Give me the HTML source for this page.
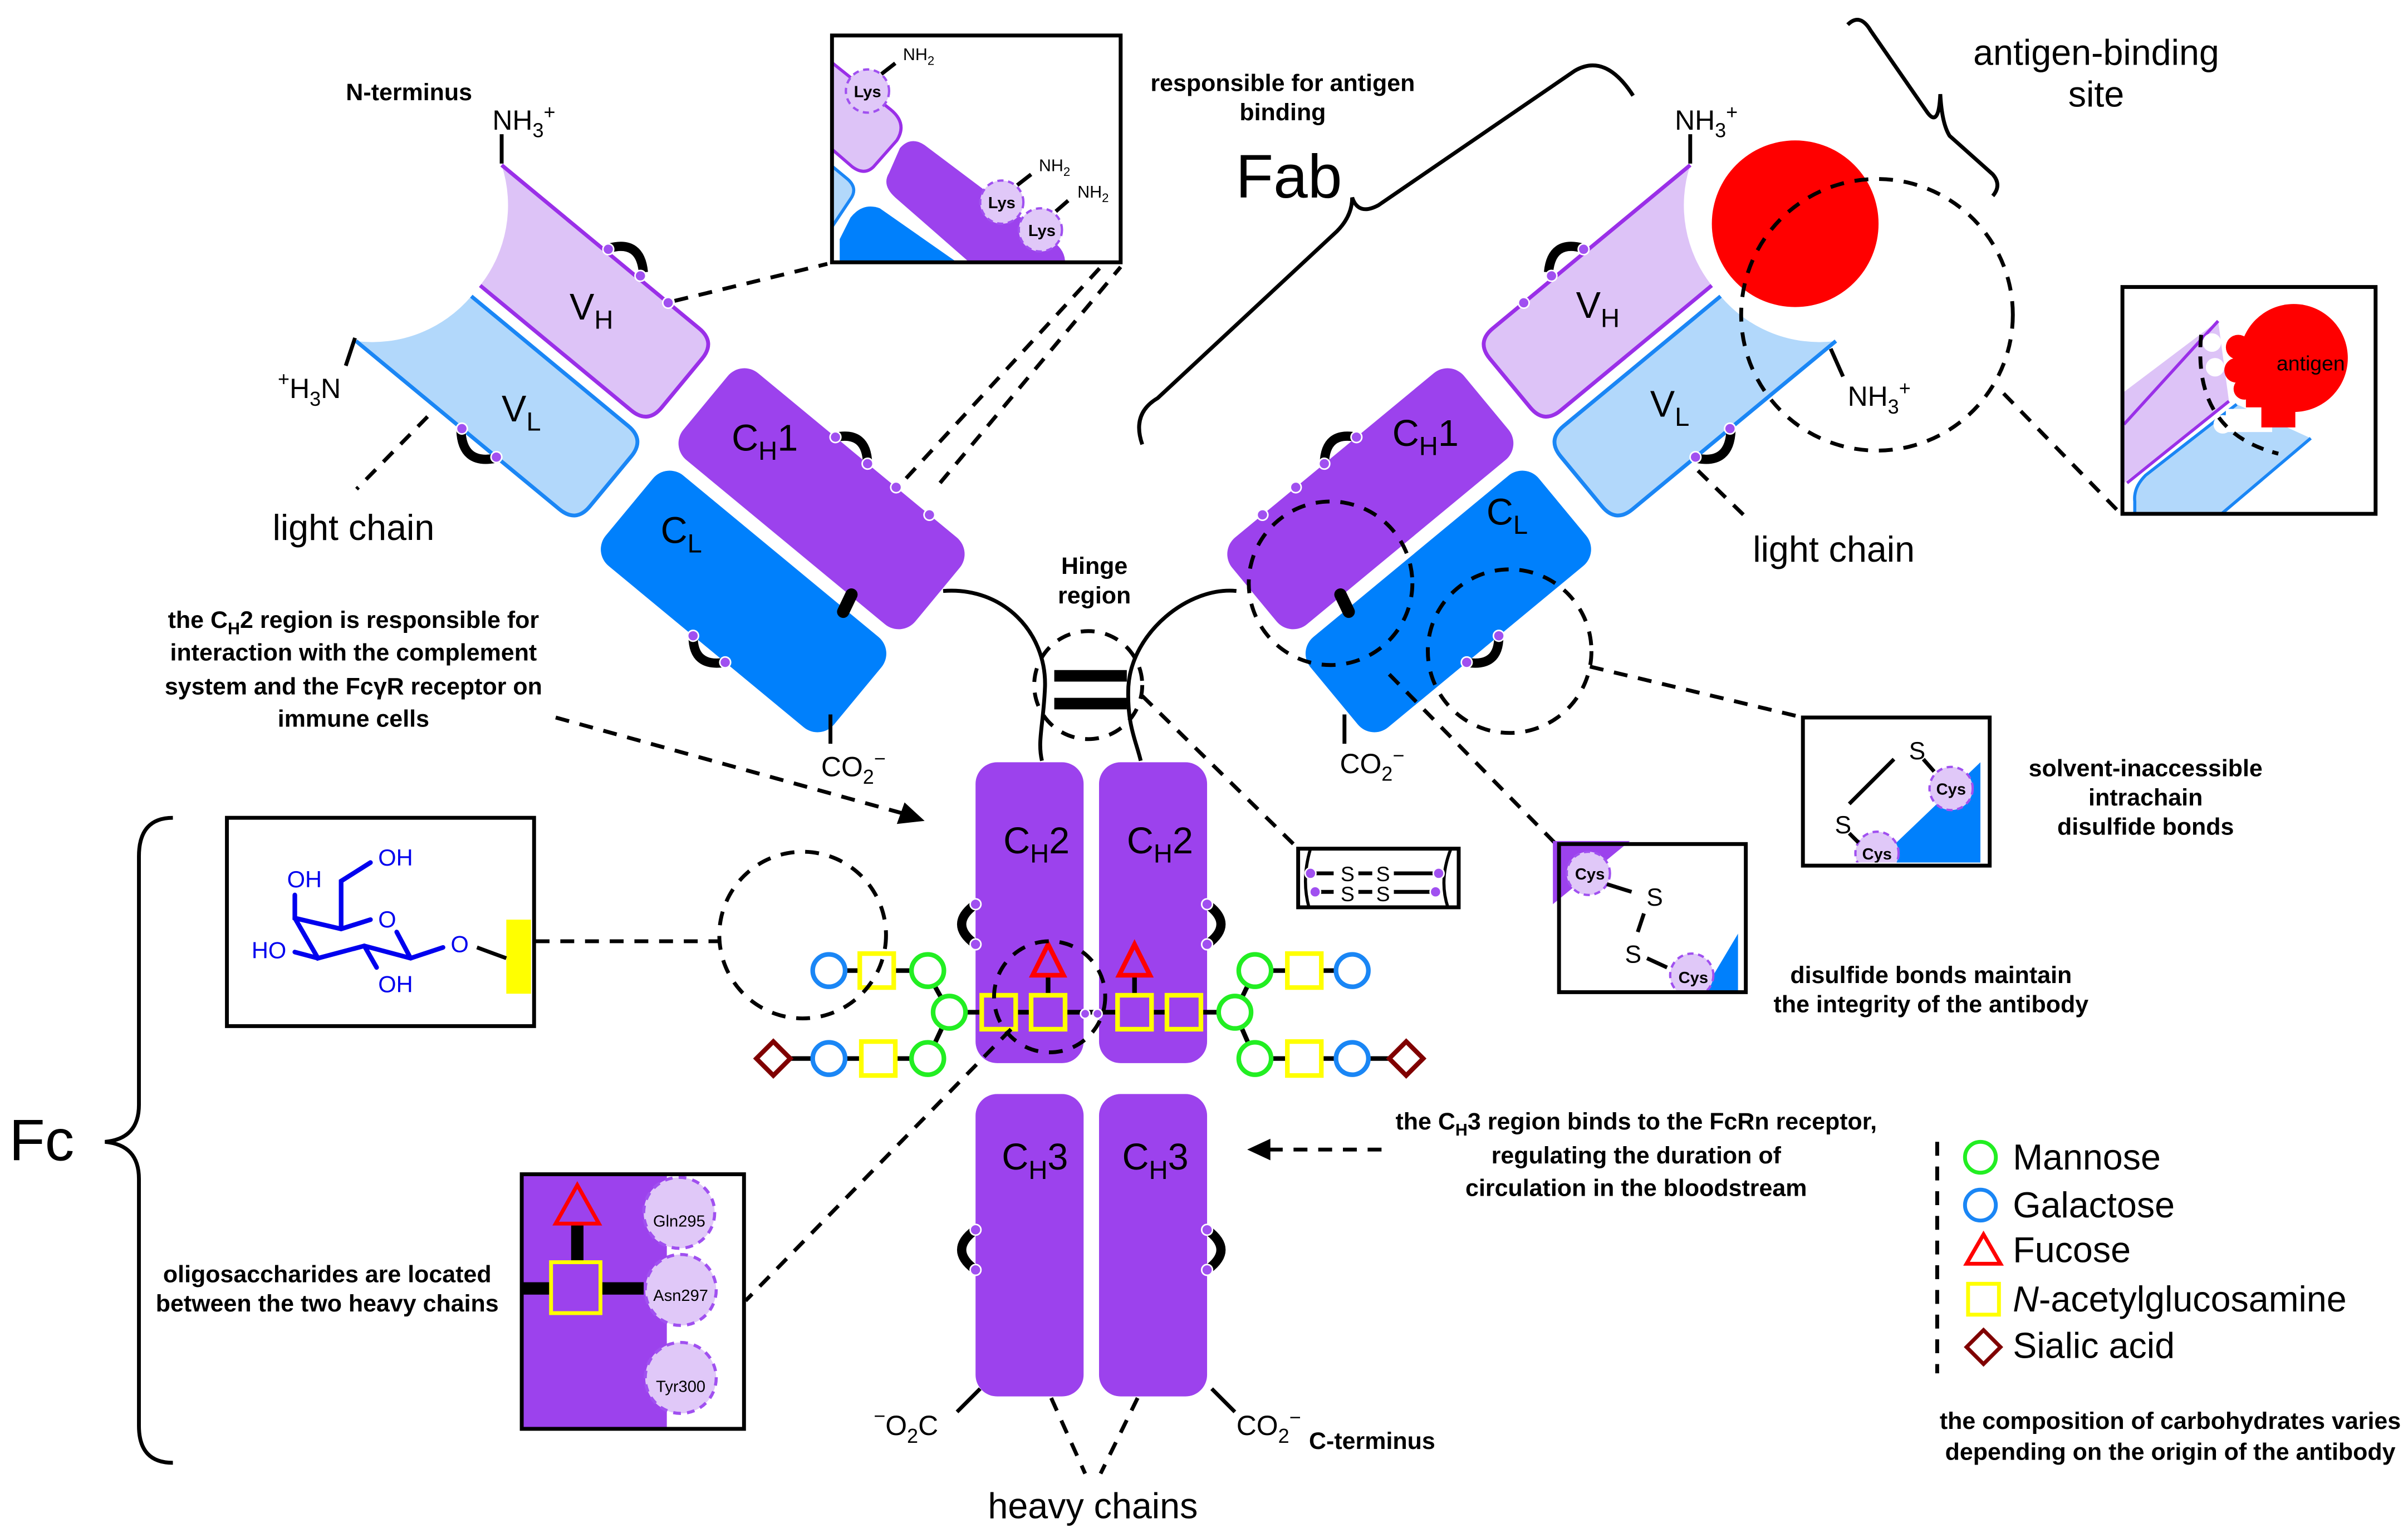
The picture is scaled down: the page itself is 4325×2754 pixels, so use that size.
<!DOCTYPE html>
<html><head><meta charset="utf-8"><style>
html,body{margin:0;padding:0;background:#fff}
svg{display:block}
text{font-family:"Liberation Sans",sans-serif;fill:#000}
.b{font-weight:bold;font-size:15.5px}
.d{font-size:24px}
.L{font-size:23.3px}
</style></head><body>
<svg width="4325" height="2754" viewBox="0 0 1560 993.5" preserveAspectRatio="none" xmlns="http://www.w3.org/2000/svg">
<defs>
<g id="arm">
 <g transform="translate(325,107) rotate(39.6)">
  <path d="M0,0 L166,0 Q180,0 180,14 L180,55 Q180,69 166,69 L39,69 A84,84 0 0 0 0,0 Z" fill="#ddc3f7"/>
  <path d="M0,0 L166,0 Q180,0 180,14 L180,55 Q180,69 166,69 L39,69" fill="none" stroke="#9a2fe8" stroke-width="2.5"/>
  <path d="M39,78 L171,78 Q185,78 185,92 L185,134 Q185,148 171,148 L0,148 A84,84 0 0 0 39,78 Z" fill="#b2d8fb"/>
  <path d="M39,78 L171,78 Q185,78 185,92 L185,134 Q185,148 171,148 L0,148" fill="none" stroke="#1a86f5" stroke-width="2.5"/>
  <rect x="200" y="-2" width="195" height="73" rx="14" fill="#9c42ed"/>
  <rect x="205" y="80" width="192" height="76" rx="14" fill="#0080fc"/>
  <path d="M88,-3 Q100,-20 115,-5" fill="none" stroke="#000" stroke-width="6"/>
  <path d="M89,149 Q104,166 118,149" fill="none" stroke="#000" stroke-width="6"/>
  <path d="M279,-2 Q292,-18 306,-2" fill="none" stroke="#000" stroke-width="6"/>
  <path d="M290,156 Q303,172 317,156" fill="none" stroke="#000" stroke-width="6"/>
  <line x1="352" y1="70" x2="355" y2="82" stroke="#000" stroke-width="8" stroke-linecap="round"/>
  <g fill="#a050f0" stroke="#fff" stroke-width="1">
   <circle cx="88" cy="-2" r="3.5"/><circle cx="115" cy="-2" r="3.5"/><circle cx="140" cy="0" r="3.5"/>
   <circle cx="89" cy="148" r="3.5"/><circle cx="118" cy="148" r="3.5"/>
   <circle cx="279" cy="-2" r="3.5"/><circle cx="306" cy="-2" r="3.5"/><circle cx="330" cy="-2" r="3.5"/><circle cx="358" cy="-2" r="3.5"/>
   <circle cx="290" cy="156" r="3.5"/><circle cx="317" cy="156" r="3.5"/>
  </g>
 </g>
</g>
</defs>

<use href="#arm"/>
<g transform="translate(1420,0) scale(-1,1)"><use href="#arm"/></g>

<g stroke="#000" stroke-width="2.5" fill="none">
<line x1="325" y1="87" x2="325" y2="106"/>
<line x1="230" y1="219" x2="224" y2="237"/>
<line x1="1095" y1="87" x2="1095" y2="106"/>
<line x1="1186" y1="226" x2="1194" y2="244"/>
<line x1="538" y1="463" x2="538" y2="482"/>
<line x1="871" y1="463" x2="871" y2="482"/>
<path d="M611,383 C650,380 678,410 677,445 C676,470 672,480 675,493"/>
<path d="M801,383 C770,380 733,410 731,445 C730,470 736,480 739,493"/>
<line x1="635" y1="900" x2="620" y2="915"/>
<line x1="785" y1="900" x2="800" y2="915"/>
</g>
<line x1="683" y1="438" x2="730" y2="438" stroke="#000" stroke-width="7.5"/>
<line x1="683" y1="456" x2="730" y2="456" stroke="#000" stroke-width="7.5"/>

<circle cx="1163" cy="145" r="54" fill="#ff0000"/>

<rect x="632" y="494" width="70" height="195" rx="14" fill="#9c42ed"/>
<rect x="712" y="494" width="70" height="195" rx="14" fill="#9c42ed"/>
<rect x="632" y="709" width="70" height="196" rx="14" fill="#9c42ed"/>
<rect x="712" y="709" width="70" height="196" rx="14" fill="#9c42ed"/>
<g fill="none" stroke="#000" stroke-width="6">
<path d="M632,586 Q614,599 632,612"/><path d="M782,586 Q800,599 782,612"/>
<path d="M632,797 Q614,810 632,823"/><path d="M782,797 Q800,810 782,823"/>
</g>
<g fill="#a050f0" stroke="#fff" stroke-width="1">
<circle cx="632" cy="586" r="3.5"/><circle cx="632" cy="612" r="3.5"/><circle cx="782" cy="586" r="3.5"/><circle cx="782" cy="612" r="3.5"/>
<circle cx="632" cy="797" r="3.5"/><circle cx="632" cy="823" r="3.5"/><circle cx="782" cy="797" r="3.5"/><circle cx="782" cy="823" r="3.5"/>
</g>

<g stroke="#000" stroke-width="3" fill="none">
<line x1="536" y1="629" x2="600" y2="629"/><line x1="600" y1="629" x2="615" y2="656"/>
<line x1="501" y1="686" x2="601" y2="686"/><line x1="601" y1="686" x2="615" y2="656"/>
<line x1="615" y1="656" x2="800" y2="656"/>
<line x1="679" y1="624" x2="679" y2="656"/><line x1="735" y1="624" x2="735" y2="656"/>
<line x1="813" y1="629" x2="876" y2="629"/><line x1="800" y1="656" x2="813" y2="629"/>
<line x1="813" y1="686" x2="911" y2="686"/><line x1="800" y1="656" x2="813" y2="686"/>
</g>
<g stroke-width="3">
<circle cx="537" cy="629" r="10.5" fill="#fff" stroke="#1a86f5"/>
<rect x="557" y="618" width="22" height="22" fill="#fff" stroke="#ffff00"/>
<circle cx="601" cy="629" r="10.5" fill="#fff" stroke="#22ee22"/>
<circle cx="615" cy="656" r="10.5" fill="#fff" stroke="#22ee22"/>
<rect x="636" y="645" width="22" height="22" fill="#9c42ed" stroke="#ffff00"/>
<rect x="668" y="645" width="22" height="22" fill="#9c42ed" stroke="#ffff00"/>
<rect x="724" y="645" width="22" height="22" fill="#9c42ed" stroke="#ffff00"/>
<rect x="756" y="645" width="22" height="22" fill="#9c42ed" stroke="#ffff00"/>
<circle cx="800" cy="656" r="10.5" fill="#fff" stroke="#22ee22"/>
<path d="M501,675 L512,686 L501,697 L490,686 Z" fill="#fff" stroke="#800000"/>
<circle cx="537" cy="686" r="10.5" fill="#fff" stroke="#1a86f5"/>
<rect x="558" y="675" width="22" height="22" fill="#fff" stroke="#ffff00"/>
<circle cx="601" cy="686" r="10.5" fill="#fff" stroke="#22ee22"/>
<circle cx="813" cy="629" r="10.5" fill="#fff" stroke="#22ee22"/>
<rect x="834" y="618" width="22" height="22" fill="#fff" stroke="#ffff00"/>
<circle cx="876" cy="629" r="10.5" fill="#fff" stroke="#1a86f5"/>
<circle cx="813" cy="686" r="10.5" fill="#fff" stroke="#22ee22"/>
<rect x="834" y="675" width="22" height="22" fill="#fff" stroke="#ffff00"/>
<circle cx="876" cy="686" r="10.5" fill="#fff" stroke="#1a86f5"/>
<path d="M911,675 L922,686 L911,697 L900,686 Z" fill="#fff" stroke="#800000"/>
<path d="M679,612 L689,632 L669,632 Z" fill="#9c42ed" stroke="#ff0000"/>
<path d="M735,612 L745,632 L725,632 Z" fill="#9c42ed" stroke="#ff0000"/>
</g>
<circle cx="703" cy="657" r="3" fill="#a050f0" stroke="#fff"/><circle cx="711" cy="657" r="3" fill="#a050f0" stroke="#fff"/>

<g fill="none" stroke="#000" stroke-width="2.5" stroke-dasharray="9,7">
<circle cx="705" cy="444" r="35"/>
<circle cx="520" cy="606" r="54"/>
<circle cx="680" cy="646" r="36"/>
<circle cx="1216" cy="204" r="88"/>
<circle cx="862" cy="378" r="53"/>
<circle cx="978" cy="422" r="53"/>
<line x1="437" y1="195" x2="536" y2="171"/>
<line x1="587" y1="310" x2="715" y2="171"/>
<line x1="609" y1="313" x2="726" y2="173"/>
<line x1="277" y1="270" x2="231" y2="317"/>
<line x1="360" y1="465" x2="588" y2="528"/>
<line x1="740" y1="451" x2="840" y2="549"/>
<line x1="347" y1="610" x2="466" y2="610"/>
<line x1="655" y1="667" x2="483" y2="843"/>
<line x1="895" y1="745" x2="822" y2="745"/>
<line x1="1298" y1="255" x2="1373" y2="332"/>
<line x1="1030" y1="432" x2="1168" y2="465"/>
<line x1="900" y1="437" x2="1008" y2="547"/>
<line x1="1100" y1="305" x2="1134" y2="338"/>
<line x1="681" y1="906" x2="703" y2="955"/>
<line x1="737" y1="906" x2="713" y2="955"/>
<line x1="1255" y1="740" x2="1255" y2="890"/>
</g>
<path d="M599,532 L581,534 L586,520 Z" fill="#000"/>
<path d="M808,745 L823,738 L823,752 Z" fill="#000"/>

<g fill="none" stroke="#000" stroke-width="2.5">
<path d="M740,288 Q733,268 750,258 L866,150 Q876,140 876,128 Q880,140 893,133 L1020,46 Q1040,34 1058,62"/>
<path d="M1197,16 Q1205,8 1212,20 L1248,72 Q1256,84 1257,61 Q1258,80 1263,88 L1291,113 Q1297,120 1291,127"/>
<path d="M112,530 Q90,530 90,555 L90,716 Q90,738 68,740 Q90,742 90,764 L90,924 Q90,948 112,948"/>
</g>

<svg x="538" y="23" width="188" height="146" viewBox="538 23 188 146">
<path d="M537,39 L577,71 Q588,80 581,91 L566,108 Q560,114 552,108 L537,95 Z" fill="#ddc3f7" stroke="#9a2fe8" stroke-width="2"/>
<path d="M537,106 L549,116 Q556,122 551,129 L537,150 Z" fill="#b2d8fb" stroke="#1a86f5" stroke-width="2"/>
<path d="M583,96 Q590,88 599,94 L684,158 Q690,163 690,170 L628,170 L580,128 Q571,120 576,112 Z" fill="#9c42ed"/>
<path d="M551,141 Q559,131 570,135 L620,170 L544,170 L544,155 Z" fill="#0080fc"/>
<g fill="#e0c8f8" stroke="#a050f0" stroke-width="1.5" stroke-dasharray="4,3">
<circle cx="562" cy="59" r="14"/><circle cx="649" cy="131" r="14"/><circle cx="674" cy="149" r="14"/>
</g>
<g stroke="#000" stroke-width="2.5"><line x1="571" y1="48" x2="580" y2="41"/><line x1="659" y1="120" x2="668" y2="113"/><line x1="684" y1="137" x2="692" y2="130"/></g>
<g style="font-size:10.5px;font-weight:bold" text-anchor="middle"><text x="562" y="63">Lys</text><text x="649" y="135">Lys</text><text x="675" y="153">Lys</text></g>
<g style="font-size:11px"><text x="585" y="39">NH<tspan dy="3" font-size="8">2</tspan></text><text x="673" y="111">NH<tspan dy="3" font-size="8">2</tspan></text><text x="698" y="128">NH<tspan dy="3" font-size="8">2</tspan></text></g>
</svg>
<rect x="539" y="23" width="187" height="147" fill="none" stroke="#000" stroke-width="2.5"/>

<svg x="1375" y="186" width="164" height="147" viewBox="1375 186 164 147">
<path d="M1437,208 L1376,254 L1376,313 L1444,260 Z" fill="#ddc3f7"/>
<line x1="1437" y1="208" x2="1376" y2="275" stroke="#9a2fe8" stroke-width="2"/>
<line x1="1444" y1="260" x2="1378" y2="313" stroke="#9a2fe8" stroke-width="2"/>
<path d="M1449,262 L1390,308 Q1382,316 1383,325 L1383,334 L1438,334 L1497,284 Z" fill="#b2d8fb"/>
<path d="M1449,262 L1390,308 Q1382,316 1383,325 L1383,334 M1438,334 L1497,284" fill="none" stroke="#1a86f5" stroke-width="2"/>
<circle cx="1433" cy="222" r="6" fill="#fff"/><circle cx="1435" cy="238" r="6" fill="#fff"/><circle cx="1440" cy="275" r="6" fill="#fff"/><rect x="1442" y="265" width="30" height="15" fill="#fff"/>
<circle cx="1486" cy="232" r="35" fill="#f00"/>
<circle cx="1450" cy="225" r="8" fill="#f00"/><circle cx="1449" cy="240" r="8" fill="#f00"/><circle cx="1454" cy="252" r="7" fill="#f00"/>
<rect x="1455" y="244" width="30" height="20" fill="#f00"/><rect x="1465" y="255" width="22" height="22" fill="#f00"/>
<path d="M1426,217 Q1420,280 1476,294" fill="none" stroke="#000" stroke-width="2.5" stroke-dasharray="8,6"/>
<text x="1497" y="240" style="font-size:13.5px" text-anchor="middle">antigen</text>
</svg>
<rect x="1375" y="186" width="164" height="147" fill="none" stroke="#000" stroke-width="2.5"/>

<rect x="841" y="550" width="104" height="38" fill="#fff" stroke="#000" stroke-width="2.5"/>
<g fill="none" stroke="#000" stroke-width="2"><path d="M849,550 Q843,570 848,588"/><path d="M940,550 Q932,570 938,588"/></g>
<g stroke="#000" stroke-width="2.5"><line x1="851" y1="566" x2="864" y2="566"/><line x1="880" y1="566" x2="889" y2="566"/><line x1="903" y1="566" x2="929" y2="566"/><line x1="855" y1="578" x2="864" y2="578"/><line x1="880" y1="578" x2="889" y2="578"/><line x1="903" y1="578" x2="929" y2="578"/></g>
<g style="font-size:13.5px" text-anchor="middle"><text x="873" y="571">S</text><text x="896" y="571">S</text><text x="873" y="584">S</text><text x="896" y="584">S</text></g>
<g fill="#a050f0" stroke="#fff"><circle cx="849" cy="566" r="3.5"/><circle cx="932" cy="566" r="3.5"/><circle cx="852" cy="578" r="3.5"/><circle cx="930" cy="578" r="3.5"/></g>

<svg x="1162" y="463" width="121" height="96" viewBox="1162 463 121 96">
<path d="M1283,494 L1283,560 L1214,560 Z" fill="#0080fc"/>
<g fill="#e0c8f8" stroke="#a050f0" stroke-width="1.5" stroke-dasharray="4,3"><circle cx="1264" cy="511" r="14"/><circle cx="1216" cy="553" r="14"/></g>
<g stroke="#000" stroke-width="2.5"><line x1="1227" y1="492" x2="1198" y2="521"/><line x1="1246" y1="492" x2="1253" y2="500"/><line x1="1198" y1="540" x2="1204" y2="546"/></g>
<g style="font-size:16px" text-anchor="middle"><text x="1242" y="492">S</text><text x="1194" y="540">S</text></g>
<g style="font-size:10.5px;font-weight:bold" text-anchor="middle"><text x="1264" y="515">Cys</text><text x="1216" y="557">Cys</text></g>
</svg>
<rect x="1168" y="465" width="121" height="96" fill="none" stroke="#000" stroke-width="2.5"/>

<svg x="1006" y="545" width="120" height="97" viewBox="1006 545 120 97">
<path d="M1006,545 L1056,545 L1006,586 Z" fill="#9c42ed"/>
<path d="M1126,605 L1126,642 L1104,642 Z" fill="#0080fc"/>
<g fill="#e0c8f8" stroke="#a050f0" stroke-width="1.5" stroke-dasharray="4,3"><circle cx="1029" cy="566" r="14"/><circle cx="1096" cy="632" r="14"/></g>
<g stroke="#000" stroke-width="2.5"><line x1="1041" y1="573" x2="1057" y2="578"/><line x1="1065" y1="592" x2="1061" y2="604"/><line x1="1067" y1="621" x2="1080" y2="627"/></g>
<g style="font-size:16px" text-anchor="middle"><text x="1072" y="587">S</text><text x="1058" y="624">S</text></g>
<g style="font-size:10.5px;font-weight:bold" text-anchor="middle"><text x="1030" y="570">Cys</text><text x="1097" y="637">Cys</text></g>
</svg>
<rect x="1010" y="547" width="121" height="96" fill="none" stroke="#000" stroke-width="2.5"/>

<rect x="147" y="530" width="199" height="135" fill="#fff" stroke="#000" stroke-width="2.5"/>
<rect x="328" y="596" width="16" height="48" fill="#ffff00"/>
<g stroke="#0000ee" stroke-width="3" fill="none" stroke-linecap="round">
<path d="M191,580 L191,595 L221,602 L240,596"/>
<path d="M221,602 L221,571 L240,559"/>
<path d="M191,595 L206,621 L236,613 L266,621 L287,614"/>
<path d="M191,617 L206,621"/>
<path d="M236,613 L244,627"/>
<path d="M266,621 L257,604"/>
</g>
<line x1="309" y1="614" x2="328" y2="621" stroke="#000" stroke-width="2.5"/>
<g style="font-size:15px">
<text x="186" y="575" style="fill:#0000ee">OH</text>
<text x="245" y="561" style="fill:#0000ee">OH</text>
<text x="245" y="601" style="fill:#0000ee">O</text>
<text x="163" y="621" style="fill:#0000ee">HO</text>
<text x="245" y="643" style="fill:#0000ee">OH</text>
<text x="292" y="617" style="fill:#0000ee">O</text>
</g>

<svg x="337" y="760" width="144" height="166" viewBox="337 760 144 166">
<rect x="337" y="760" width="95" height="166" fill="#9c42ed"/>
<g fill="#e0c8f8" stroke="#a050f0" stroke-width="2" stroke-dasharray="5,4"><circle cx="440" cy="786" r="23"/><circle cx="441" cy="836" r="23"/><circle cx="441" cy="893" r="23"/></g>
<line x1="337" y1="835" x2="417" y2="835" stroke="#000" stroke-width="8"/>
<line x1="374" y1="792" x2="374" y2="818" stroke="#000" stroke-width="8"/>
<rect x="357" y="818" width="32" height="33" fill="#9c42ed" stroke="#ffff00" stroke-width="2.5"/>
<path d="M374,768 L388,793 L360,793 Z" fill="none" stroke="#f00" stroke-width="2.5"/>
<g style="font-size:10.5px" text-anchor="middle"><text x="440" y="795">Gln295</text><text x="441" y="843">Asn297</text><text x="441" y="902">Tyr300</text></g>
</svg>
<rect x="338" y="761" width="144" height="165" fill="none" stroke="#000" stroke-width="2.5"/>

<g stroke-width="2.5" fill="#fff">
<circle cx="1283" cy="750" r="10" stroke="#22ee22"/>
<circle cx="1283" cy="781" r="10" stroke="#1a86f5"/>
<path d="M1285,800 L1296,819 L1274,819 Z" stroke="#f00"/>
<rect x="1275" y="832" width="20" height="20" stroke="#ffff00"/>
<path d="M1285,862 L1296,873 L1285,884 L1274,873 Z" stroke="#800000"/>
</g>
<g class="L">
<text x="1304" y="758">Mannose</text>
<text x="1304" y="789">Galactose</text>
<text x="1304" y="818">Fucose</text>
<text x="1304" y="850"><tspan font-style="italic">N</tspan>-acetylglucosamine</text>
<text x="1304" y="880">Sialic acid</text>
</g>

<g class="d">
<text x="369" y="207">V<tspan dy="6" font-size="17">H</tspan></text>
<text x="325" y="273">V<tspan dy="6" font-size="17">L</tspan></text>
<text x="474" y="292">C<tspan dy="6" font-size="17">H</tspan><tspan dy="-6">1</tspan></text>
<text x="428" y="352">C<tspan dy="6" font-size="17">L</tspan></text>
<text x="1021" y="206">V<tspan dy="6" font-size="17">H</tspan></text>
<text x="1069" y="270">V<tspan dy="6" font-size="17">L</tspan></text>
<text x="902" y="289">C<tspan dy="6" font-size="17">H</tspan><tspan dy="-6">1</tspan></text>
<text x="963" y="340">C<tspan dy="6" font-size="17">L</tspan></text>
<text x="650" y="553">C<tspan dy="6" font-size="17">H</tspan><tspan dy="-6">2</tspan></text>
<text x="730" y="553">C<tspan dy="6" font-size="17">H</tspan><tspan dy="-6">2</tspan></text>
<text x="649" y="758">C<tspan dy="6" font-size="17">H</tspan><tspan dy="-6">3</tspan></text>
<text x="727" y="758">C<tspan dy="6" font-size="17">H</tspan><tspan dy="-6">3</tspan></text>
</g>
<g style="font-size:18px">
<text x="319" y="84">NH<tspan dy="5" font-size="13">3</tspan><tspan dy="-12" font-size="13">+</tspan></text>
<text x="180" y="258"><tspan dy="-8" font-size="13">+</tspan><tspan dy="8">H</tspan><tspan dy="5" font-size="13">3</tspan><tspan dy="-5">N</tspan></text>
<text x="1085" y="84">NH<tspan dy="5" font-size="13">3</tspan><tspan dy="-12" font-size="13">+</tspan></text>
<text x="1197" y="263">NH<tspan dy="5" font-size="13">3</tspan><tspan dy="-12" font-size="13">+</tspan></text>
<text x="532" y="503">CO<tspan dy="5" font-size="13">2</tspan><tspan dy="-12" font-size="13">−</tspan></text>
<text x="868" y="501">CO<tspan dy="5" font-size="13">2</tspan><tspan dy="-12" font-size="13">−</tspan></text>
<text x="566" y="930"><tspan dy="-8" font-size="13">−</tspan><tspan dy="8">O</tspan><tspan dy="5" font-size="13">2</tspan><tspan dy="-5">C</tspan></text>
<text x="801" y="930">CO<tspan dy="5" font-size="13">2</tspan><tspan dy="-12" font-size="13">−</tspan></text>
</g>

<text x="229" y="350" class="L" text-anchor="middle">light chain</text>
<text x="1188" y="364" class="L" text-anchor="middle">light chain</text>
<text x="708" y="984" class="L" text-anchor="middle">heavy chains</text>
<text x="835" y="128" style="font-size:40px" text-anchor="middle">Fab</text>
<text x="27" y="752" style="font-size:38px" text-anchor="middle">Fc</text>
<text x="1358" y="42" class="L" text-anchor="middle">antigen-binding</text>
<text x="1358" y="69" class="L" text-anchor="middle">site</text>

<g class="b" text-anchor="middle">
<text x="265" y="65">N-terminus</text>
<text x="831" y="59">responsible for antigen</text>
<text x="831" y="78">binding</text>
<text x="709" y="372">Hinge</text>
<text x="709" y="391">region</text>
<text x="229" y="407">the C<tspan dy="4" font-size="11">H</tspan><tspan dy="-4">2 region is responsible for</tspan></text>
<text x="229" y="428">interaction with the complement</text>
<text x="229" y="450">system and the FcγR receptor on</text>
<text x="229" y="471">immune cells</text>
<text x="1390" y="503">solvent-inaccessible</text>
<text x="1390" y="522">intrachain</text>
<text x="1390" y="541">disulfide bonds</text>
<text x="1251" y="637">disulfide bonds maintain</text>
<text x="1251" y="656">the integrity of the antibody</text>
<text x="1060" y="732">the C<tspan dy="4" font-size="11">H</tspan><tspan dy="-4">3 region binds to the FcRn receptor,</tspan></text>
<text x="1060" y="754">regulating the duration of</text>
<text x="1060" y="775">circulation in the bloodstream</text>
<text x="212" y="831">oligosaccharides are located</text>
<text x="212" y="850">between the two heavy chains</text>
<text x="1406" y="926">the composition of carbohydrates varies</text>
<text x="1406" y="946">depending on the origin of the antibody</text>
</g>
<text x="848" y="939" class="b">C-terminus</text>
</svg>
</body></html>
